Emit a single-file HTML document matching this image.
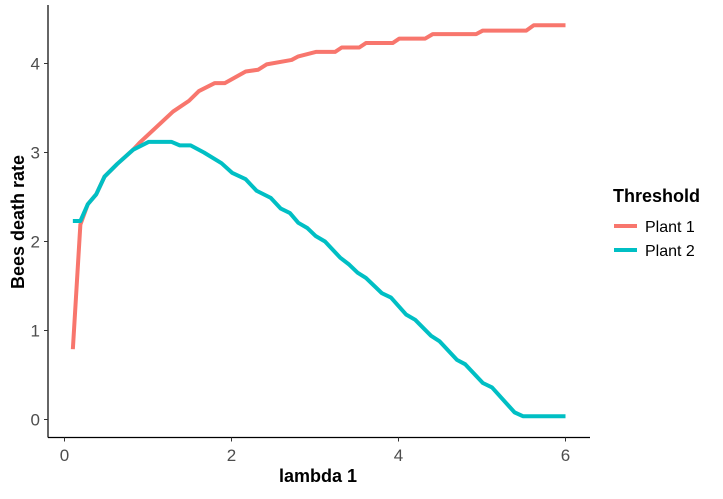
<!DOCTYPE html>
<html><head><meta charset="utf-8"><style>
body{margin:0;background:#fff;}
svg text{font-family:"Liberation Sans",sans-serif;}
</style></head><body>
<svg id="chart" width="723" height="494" xmlns="http://www.w3.org/2000/svg">
<rect width="723" height="494" fill="#fff"/>
<g id="plot"></g>
<text x="318" y="482" font-size="18" font-weight="bold" text-anchor="middle">lambda 1</text>
<text transform="translate(24,222) rotate(-90)" font-size="18" font-weight="bold" text-anchor="middle">Bees death rate</text>
<g>
<text x="613" y="202" font-size="18" font-weight="bold">Threshold</text>
<line x1="614" y1="226" x2="637" y2="226" stroke="#F8766D" stroke-width="4"/>
<text x="645" y="232" font-size="16" fill="#000">Plant 1</text>
<line x1="614" y1="250" x2="637" y2="250" stroke="#00BFC4" stroke-width="4"/>
<text x="645" y="256" font-size="16" fill="#000">Plant 2</text>
</g>
</svg>
<script>
const xTicks=[0,2,4,6];
const yTicks=[0,1,2,3,4];
const plant1X=[0.1,0.19,0.28,0.38,0.48,0.63,0.82,0.9,1.3,1.49,1.61,1.8,1.92,2.17,2.32,2.42,2.72,2.8,3.01,3.24,3.32,3.53,3.61,3.93,4.01,4.32,4.41,4.93,5.01,5.53,5.62,6.0];
const plant1Y=[0.79,2.19,2.42,2.53,2.73,2.87,3.03,3.11,3.46,3.58,3.69,3.78,3.78,3.91,3.93,3.99,4.04,4.08,4.13,4.13,4.18,4.18,4.23,4.23,4.28,4.28,4.33,4.33,4.37,4.37,4.43,4.43];
const plant2X=[0.1,0.19,0.28,0.38,0.48,0.63,0.82,1.01,1.28,1.38,1.51,1.67,1.88,2.01,2.17,2.3,2.47,2.59,2.7,2.8,2.91,3.01,3.12,3.3,3.41,3.51,3.61,3.8,3.91,4.09,4.2,4.39,4.49,4.7,4.8,5.01,5.12,5.39,5.49,6.0];
const plant2Y=[2.23,2.23,2.42,2.53,2.73,2.87,3.03,3.12,3.12,3.08,3.08,3.0,2.88,2.77,2.7,2.57,2.49,2.37,2.32,2.21,2.15,2.06,2.0,1.82,1.74,1.65,1.59,1.42,1.37,1.18,1.12,0.94,0.88,0.67,0.62,0.41,0.36,0.08,0.037,0.037];

const NS='http://www.w3.org/2000/svg';
const sx=v=>64.5+v*83.5;
const sy=v=>419.5-v*89;
const g=document.getElementById('plot');
function mk(tag,attrs){const e=document.createElementNS(NS,tag);for(const k in attrs)e.setAttribute(k,attrs[k]);g.appendChild(e);return e;}

const xa=mk('line',{x1:48,y1:437.5,x2:590,y2:437.5,stroke:'#000','stroke-width':1.2});


const ya=mk('line',{x1:48,y1:5,x2:48,y2:437.5,stroke:'#000','stroke-width':1.2});



xTicks.forEach(t=>{
  const l=mk('line',{x1:sx(t),y1:437.5,x2:sx(t),y2:441.5,stroke:'#333','stroke-width':1});
  
  
  const tx=mk('text',{x:sx(t),y:461,'font-size':17,fill:'#4d4d4d','text-anchor':'middle'});
  tx.textContent=t;
  
  
});
yTicks.forEach(t=>{
  const l=mk('line',{x1:44,y1:sy(t),x2:48,y2:sy(t),stroke:'#333','stroke-width':1});
  
  
  const tx=mk('text',{x:40,y:sy(t)+6,'font-size':17,fill:'#4d4d4d','text-anchor':'end'});
  tx.textContent=t;
  
  
});
function line(xs,ys,color){
  return mk('polyline',{points:xs.map((x,i)=>sx(x)+','+sy(ys[i])).join(' '),fill:'none',stroke:color,'stroke-width':4,'stroke-linejoin':'round'});
}
const p1=line(plant1X,plant1Y,'#F8766D');


const p2=line(plant2X,plant2Y,'#00BFC4');


</script>
</body></html>
